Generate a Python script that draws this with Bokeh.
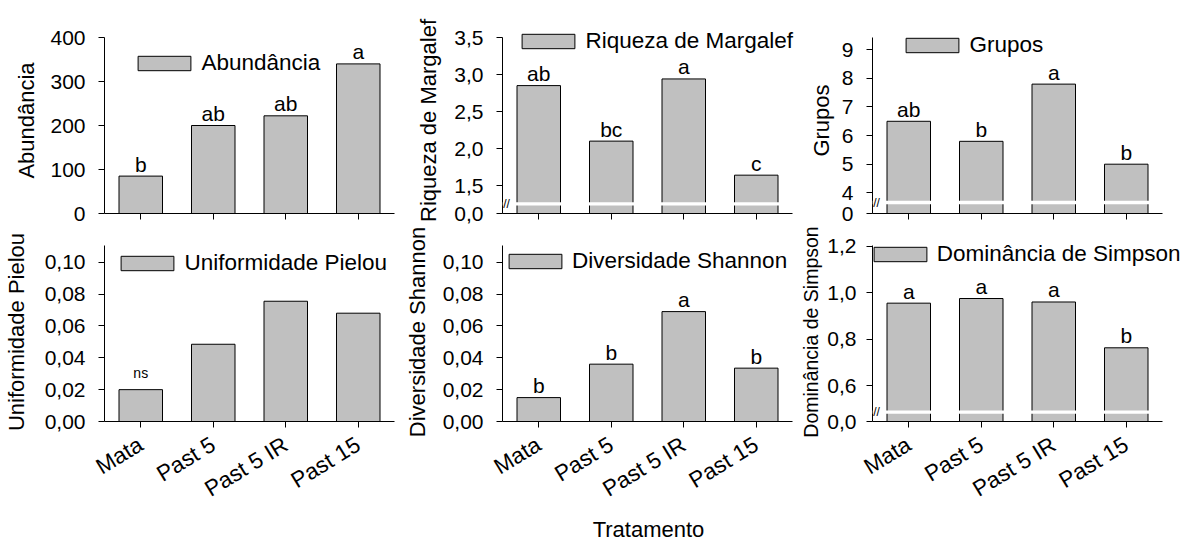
import math
from bokeh.plotting import figure
from bokeh.models import (Range1d, FixedTicker, CustomJSTickFormatter,
                          Legend, LegendItem, BoxAnnotation, Label, ColumnDataSource)
from bokeh.layouts import row, column
from bokeh.embed import file_html
from bokeh.resources import INLINE
from bokeh.core.properties import value

# ---------------- data ----------------
categories = ["Mata", "Past 5", "Past 5 IR", "Past 15"]

abundancia = [85, 200, 222, 340]
abundancia_letters = ["b", "ab", "ab", "a"]
abundancia_ticks = [0, 100, 200, 300, 400]

margalef = [2.85, 2.10, 2.94, 1.64]
margalef_letters = ["ab", "bc", "a", "c"]
margalef_ticks = [1.5, 2.0, 2.5, 3.0, 3.5]

grupos = [6.5, 5.8, 7.8, 5.0]
grupos_letters = ["ab", "b", "a", "b"]
grupos_ticks = [4, 5, 6, 7, 8, 9]

pielou = [0.020, 0.0485, 0.0755, 0.068]
pielou_letters = ["ns", "", "", ""]
pielou_ticks = [0.0, 0.02, 0.04, 0.06, 0.08, 0.10]

shannon = [0.015, 0.036, 0.069, 0.0335]
shannon_letters = ["b", "b", "a", "b"]
shannon_ticks = [0.0, 0.02, 0.04, 0.06, 0.08, 0.10]

simpson = [0.955, 0.975, 0.96, 0.763]
simpson_letters = ["a", "a", "a", "b"]
simpson_ticks = [0.6, 0.8, 1.0, 1.2]

FONT = "Liberation Sans"
BAR_FILL = "#c0c0c0"
FRAME_W = 290   # pixel width of the axis extent
FRAME_H = 176   # pixel height of the axis extent


def panel(values, letters, ticks, ylabel, legend_label, y_start, y_top, decimals,
          brk, width, height, mbl, mbt, ext_top, ext_right, ylabel_standoff, legend_xy,
          bottom_row, letter_size="21px", letter_offset=-12, ylabel_size="22px",
          xlabel=None, tick_standoff=13):
    idx = list(range(len(categories)))
    x0, x1 = -0.5, len(categories) - 0.5
    x_end = x1 + ext_right * (x1 - x0) / FRAME_W
    y_end = y_top + ext_top * (y_top - y_start) / FRAME_H
    frame_w = FRAME_W + ext_right
    frame_h = FRAME_H + ext_top
    mbr = width - mbl - frame_w
    mbb = height - mbt - frame_h

    p = figure(x_range=Range1d(x0, x_end), y_range=Range1d(y_start, y_end),
               width=width, height=height,
               output_backend="svg", toolbar_location=None, title=None,
               min_border_left=mbl, min_border_right=mbr,
               min_border_top=mbt, min_border_bottom=mbb)
    p.outline_line_color = None
    p.xgrid.grid_line_color = None
    p.ygrid.grid_line_color = None
    p.background_fill_color = "white"
    p.border_fill_color = "white"

    src = ColumnDataSource(dict(x=idx, cat=categories, val=values, lab=letters))
    base = y_start if brk is not None else 0
    r = p.vbar(x="x", top="val", bottom=base, width=0.6, source=src,
               fill_color=BAR_FILL, line_color="black", line_width=1)
    p.text(x="x", y="val", text="lab", source=src, text_align="center",
           text_baseline="middle", y_offset=letter_offset,
           text_font=value(FONT), text_font_size=letter_size, text_color="black")

    if brk is not None:
        p.add_layout(BoxAnnotation(bottom=brk[0], top=brk[1], fill_color="white",
                                   fill_alpha=1, line_alpha=0))
        p.add_layout(Label(x=4, y=(brk[0] + brk[1]) / 2, x_units="screen",
                           y_units="data", text="//", text_align="center",
                           text_baseline="middle", text_font=FONT,
                           text_font_size="12px", text_color="black"))

    all_ticks = ([y_start] if brk is not None else []) + list(ticks)
    yax = p.yaxis[0]
    yax.bounds = (y_start, y_top)
    yax.ticker = FixedTicker(ticks=all_ticks)
    yax.formatter = CustomJSTickFormatter(
        args=dict(z=y_start, d=decimals, brk=brk is not None),
        code="""
        if (brk && Math.abs(tick - z) < 1e-9) { return (0).toFixed(d).replace('.', ','); }
        return tick.toFixed(d).replace('.', ',');
        """)
    yax.minor_tick_line_color = None
    yax.major_tick_out = 6
    yax.major_tick_in = 0
    yax.major_label_standoff = tick_standoff
    yax.major_label_text_font = FONT
    yax.major_label_text_font_size = "21px"
    yax.major_label_text_color = "black"
    yax.axis_line_color = "black"
    yax.major_tick_line_color = "black"
    yax.axis_label = ylabel
    yax.axis_label_text_font = FONT
    yax.axis_label_text_font_size = ylabel_size
    yax.axis_label_text_font_style = "normal"
    yax.axis_label_text_color = "black"
    yax.axis_label_standoff = ylabel_standoff

    xax = p.xaxis[0]
    xax.bounds = (x0, x1)
    xax.ticker = FixedTicker(ticks=idx)
    xax.minor_tick_line_color = None
    xax.major_tick_out = 6
    xax.major_tick_in = 0
    xax.axis_line_color = "black"
    xax.major_tick_line_color = "black"
    xax.major_label_text_font = FONT
    xax.major_label_text_color = "black"
    if bottom_row:
        xax.formatter = CustomJSTickFormatter(
            args=dict(names=categories),
            code="const i = Math.round(tick); return (i >= 0 && i < names.length) ? names[i] : '';")
        xax.major_label_text_font_size = "22.5px"
        xax.major_label_orientation = 0.55
        xax.major_label_standoff = 15
    else:
        xax.formatter = CustomJSTickFormatter(code="return '';")
        xax.major_label_text_font_size = "1px"
        xax.major_label_standoff = 0
    if xlabel:
        xax.axis_label = xlabel
        xax.axis_label_text_font = FONT
        xax.axis_label_text_font_size = "22px"
        xax.axis_label_text_font_style = "normal"
        xax.axis_label_text_color = "black"
        xax.axis_label_standoff = 2

    # area legend glyphs are drawn inset by 10% on each side
    legend = Legend(items=[LegendItem(label=legend_label, renderers=[r])],
                    location=legend_xy, glyph_width=66, glyph_height=18,
                    label_standoff=4, label_text_font=FONT,
                    label_text_font_size="22.5px", label_text_color="black",
                    padding=0, margin=0, spacing=0, border_line_alpha=0,
                    background_fill_alpha=0, label_height=18, label_width=10)
    p.add_layout(legend)
    return p


TOP_EXT = 10
BOT_EXT = 3

# column 1 (x 0-400), split at y=228
f1 = panel(abundancia, abundancia_letters, abundancia_ticks, "Abundância", "Abundância",
           0, 400, 0, None, 400, 228, 104, 37 - TOP_EXT, TOP_EXT, 4, 8,
           (27.4, 137), False)
f4 = panel(pielou, pielou_letters, pielou_ticks, "Uniformidade Pielou", "Uniformidade Pielou",
           0, 0.1105, 2, None, 400, 320, 104, 245 - BOT_EXT - 228, BOT_EXT, 4, 13,
           (10.4, 145.5), True, letter_size="14px", letter_offset=-17)

# column 2 (x 400-794), split at y=224
f2 = panel(margalef, margalef_letters, margalef_ticks, "Riqueza de Margalef", "Riqueza de Margalef",
           1.122, 3.5, 1, (1.23, 1.275), 394, 224, 102, 37 - TOP_EXT, TOP_EXT, 2, 10,
           (13.4, 159.5), False)
f5 = panel(shannon, shannon_letters, shannon_ticks, "Diversidade Shannon", "Diversidade Shannon",
           0, 0.1105, 2, None, 394, 324, 102, 245 - BOT_EXT - 224, BOT_EXT, 2, 10,
           (0, 147), True, xlabel="Tratamento")

# column 3 (x 794-1188), split at y=226
f3 = panel(grupos, grupos_letters, grupos_ticks, "Grupos", "Grupos",
           3.276, 9.43, 0, (3.6, 3.72), 394, 226, 78, 37 - TOP_EXT, TOP_EXT, 26, 5,
           (27.4, 154.8), False)
f6 = panel(simpson, simpson_letters, simpson_ticks, "Dominância de Simpson", "Dominância de Simpson",
           0.446, 1.203, 1, (0.479, 0.493), 394, 322, 78, 245 - BOT_EXT - 226, BOT_EXT, 26, 2,
           (-5.3, 154.2), True, ylabel_size="19.5px", tick_standoff=10)

layout = row(column(f1, f4), column(f2, f5), column(f3, f6))

with open("out.html", "w") as fh:
    fh.write(file_html(layout, INLINE))
